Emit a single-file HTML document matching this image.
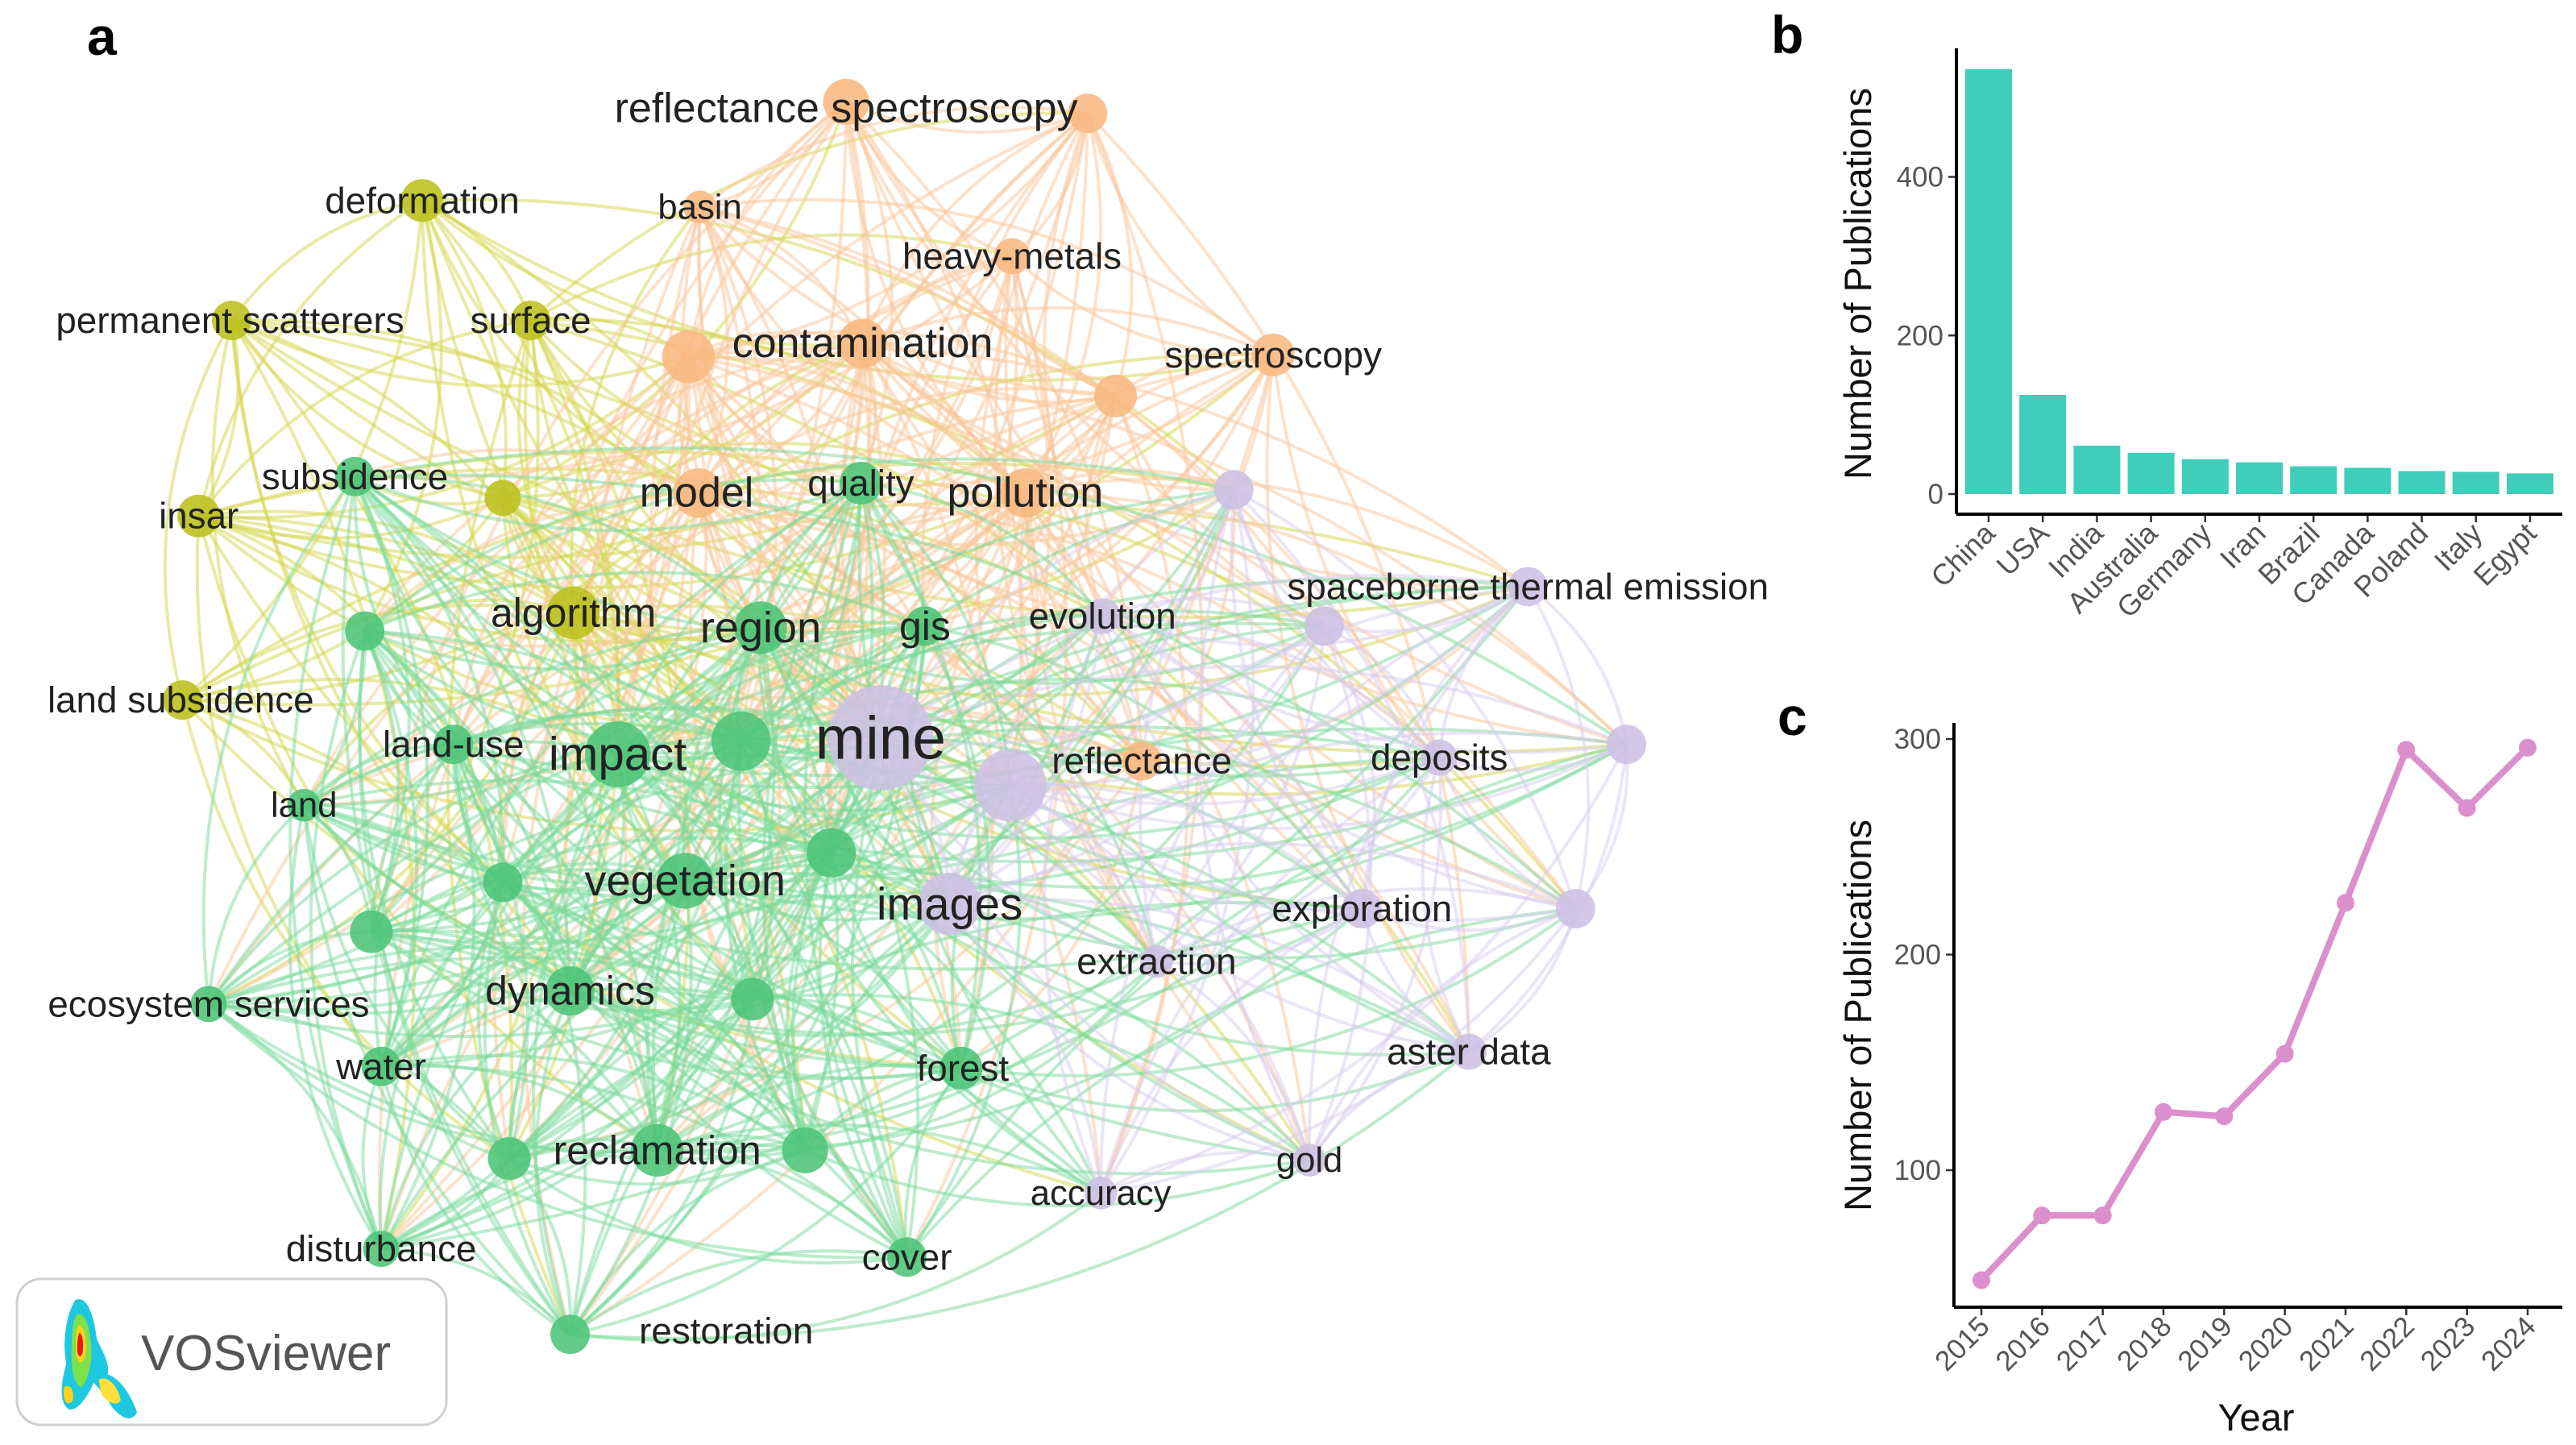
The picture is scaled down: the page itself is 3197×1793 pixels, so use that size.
<!DOCTYPE html>
<html><head><meta charset="utf-8">
<style>
html,body{margin:0;padding:0;background:#fff;}
svg{display:block;font-family:"Liberation Sans",sans-serif;}
</style></head>
<body>
<svg id="fig" width="3197" height="1793" viewBox="0 0 3197 1793" xmlns="http://www.w3.org/2000/svg">
  <g id="net">
    <g id="edges"></g>
    <g id="nodes"></g>
    <g id="labels"></g>
  </g>
  <text x="108" y="68" font-size="66" font-weight="bold" fill="#000">a</text>
  <text x="2198" y="66" font-size="66" font-weight="bold" fill="#000">b</text>
  <text x="2206" y="912" font-size="66" font-weight="bold" fill="#000">c</text>

  <g>
    <rect x="21" y="1587" width="533" height="181" rx="30" fill="#fff" stroke="#cfcfcf" stroke-width="3"/>
    <g transform="translate(112,1685) scale(1.35) translate(-112,-1685)">
      <path d="M98 1632 C110 1626 116 1650 118 1668 C124 1680 130 1690 128 1700 C140 1704 150 1720 155 1735 C150 1745 140 1740 132 1730 C126 1720 120 1712 115 1708 C110 1720 100 1735 92 1732 C82 1725 86 1705 90 1690 C86 1670 90 1645 98 1632Z" fill="#1ec8e0"/>
      <path d="M100 1645 C108 1642 112 1660 113 1675 C114 1690 110 1705 104 1712 C96 1710 94 1690 95 1675 C95 1660 96 1650 100 1645Z" fill="#7ee04a"/>
      <path d="M101 1655 C106 1654 109 1668 108 1680 C106 1692 100 1692 99 1680 C98 1668 99 1660 101 1655Z" fill="#ffd21a"/>
      <path d="M102 1662 C105 1662 106 1672 105 1680 C103 1686 100 1684 100 1676 C100 1668 101 1664 102 1662Z" fill="#e41a1a"/>
      <path d="M120 1705 C128 1700 138 1712 140 1724 C136 1730 128 1726 122 1718Z" fill="#ffe03a"/>
      <path d="M88 1712 C92 1708 98 1714 96 1724 C92 1730 86 1726 88 1712Z" fill="#ffd21a"/>
    </g>
    <text x="175" y="1700" font-size="62" fill="#555">VOSviewer</text>
  </g>

  <g id="chartB"></g>
  <g id="chartC"></g>
</svg>
<script>
// ---------- Panel b data ----------
const countries = ["China","USA","India","Australia","Germany","Iran","Brazil","Canada","Poland","Italy","Egypt"];
const countryCounts = [536,125,61,52,44,40,35,33,29,28,26];
const bTicks = [0,200,400];
// ---------- Panel c data ----------
const years = ["2015","2016","2017","2018","2019","2020","2021","2022","2023","2024"];
const yearCounts = [49,79,79,127,125,154,224,295,268,296];
const cTicks = [100,200,300];
// ---------- Panel a data (display coords, scaled below) ----------
const nodeNames = ["deformation","permanent scatterers","surface","insar","y1","algorithm","land subsidence",
 "reflectance spectroscopy","o1","basin","heavy-metals","contamination","o2","spectroscopy","o3","model","pollution","reflectance",
 "subsidence","quality","region","gis","g1","land-use","impact","g2","land","vegetation","g3","g4","g5","ecosystem services","dynamics","g6","water","forest","reclamation","g7","g8","disturbance","cover","restoration",
 "mine","p1","images","evolution","p2","p3","spaceborne thermal emission","deposits","p4","exploration","p5","extraction","aster data","gold","accuracy"];
const nodeX = [257,141,323,121,306,349,111, 515,662,426,616,525,419,775,679,425,624,695,
 216,524,463,563,222,276,376,451,185,417,306,506,226,127,347,458,232,585,400,310,490,232,552,347,
 536,615,578,671,751,806,930,876,990,829,959,704,894,797,670];
const nodeY = [122,195,195,314,303,373,426, 62,69,126,156,209,217,216,241,300,300,463,
 290,294,382,381,384,453,459,451,490,536,537,519,567,611,603,608,649,650,700,705,700,760,765,812,
 449,478,550,375,298,381,357,461,453,553,553,585,640,706,726];
const nodeR = [13,12,12,13,11,16,12, 14,12,10,11,15,16,13,13,15,15,12,
 12,13,16,12,12,12,20,18,10,17,12,15,13,11,15,13,12,13,16,13,14,11,12,12,
 32,22,19,11,12,12,12,11,12,12,12,10,11,10,10];
const nodeCluster = [0,0,0,0,0,0,0, 1,1,1,1,1,1,1,1,1,1,1,
 2,2,2,2,2,2,2,2,2,2,2,2,2,2,2,2,2,2,2,2,2,2,2,2,
 3,3,3,3,3,3,3,3,3,3,3,3,3,3,3];
const labelX = {"deformation":257,"permanent scatterers":140,"surface":323,"insar":121,"algorithm":349,"land subsidence":110,
 "reflectance spectroscopy":515,"basin":426,"heavy-metals":616,"contamination":525,"spectroscopy":775,"model":424,"pollution":624,"reflectance":695,
 "subsidence":216,"quality":524,"region":463,"gis":563,"land-use":276,"impact":376,"land":185,"vegetation":417,"ecosystem services":127,"dynamics":347,"water":232,"forest":586,"reclamation":400,"disturbance":232,"cover":552,"restoration":442,
 "mine":536,"images":578,"evolution":671,"spaceborne thermal emission":930,"deposits":876,"exploration":829,"extraction":704,"aster data":894,"gold":797,"accuracy":670};
const labelY = {"deformation":122,"permanent scatterers":195,"surface":195,"insar":314,"algorithm":373,"land subsidence":426,
 "reflectance spectroscopy":66,"basin":126,"heavy-metals":156,"contamination":209,"spectroscopy":216,"model":300,"pollution":300,"reflectance":463,
 "subsidence":290,"quality":294,"region":382,"gis":381,"land-use":453,"impact":459,"land":490,"vegetation":536,"ecosystem services":611,"dynamics":603,"water":649,"forest":650,"reclamation":700,"disturbance":760,"cover":765,"restoration":810,
 "mine":449,"images":550,"evolution":375,"spaceborne thermal emission":357,"deposits":461,"exploration":553,"extraction":585,"aster data":640,"gold":706,"accuracy":726};
const labelSize = {"mine":36,"impact":28,"images":27,"vegetation":26,"region":26,"reflectance spectroscopy":25,"contamination":25,"pollution":25,"model":25,"algorithm":24,"dynamics":24,"reclamation":24,"gis":24,"land":21,"basin":21,"gold":21,"accuracy":21,"cover":22};

const NS = "http://www.w3.org/2000/svg";
function mk(tag, attrs, parent){const e=document.createElementNS(NS,tag);for(const k in attrs)e.setAttribute(k,attrs[k]);parent.appendChild(e);return e;}
const S = 2.039;
const nodeFill = ["#bcbf1c","#f8b880","#4cc477","#cdc0e4"];
const edgeCol = ["#d3d64a","#f9c59a","#7ad99b","#d8ccee"];

// edges
const gE = document.getElementById("edges");
for(let i=0;i<nodeNames.length;i++){
  for(let j=i+1;j<nodeNames.length;j++){
    const same = nodeCluster[i]===nodeCluster[j];
    const h = (i*31+j*17)%11;
    const big = nodeR[i]>=15||nodeR[j]>=15;
    if(!(same ? h<8 : (big ? h<5 : h<2))) continue;
    const x1=nodeX[i]*S,y1=nodeY[i]*S,x2=nodeX[j]*S,y2=nodeY[j]*S;
    const mx=(x1+x2)/2,my=(y1+y2)/2,dx=x2-x1,dy=y2-y1;
    const c=((i+j)%2?0.2:-0.2);
    const p = mk("path",{d:`M${x1} ${y1} Q${mx-dy*c} ${my+dx*c} ${x2} ${y2}`,fill:"none",stroke:edgeCol[nodeCluster[i]],"stroke-width":4,"stroke-opacity":0.5},gE);
    
    
  }
}
// nodes
const gN = document.getElementById("nodes");
for(let i=0;i<nodeNames.length;i++){
  const c = mk("circle",{cx:nodeX[i]*S,cy:nodeY[i]*S,r:nodeR[i]*S,fill:nodeFill[nodeCluster[i]],"fill-opacity":0.88},gN);
  
  
}
// labels
const gL = document.getElementById("labels");
for(const name in labelX){
  const t = mk("text",{x:labelX[name]*S,y:labelY[name]*S,"text-anchor":"middle","dominant-baseline":"central","font-size":(labelSize[name]||22)*S*1.02,fill:"#222"},gL);
  t.textContent = name;
  
  
}

// ---------- Panel b ----------
const gB = document.getElementById("chartB");
const bX0=2428, bXend=3180, bYtop=60, bYaxis=638;
const bY = v => 613 - v*(393.5/400);
const bStep = 67.2, bFirst = 2468;
const bx = i => bFirst + i*bStep;
countries.forEach((c,i)=>{
  const r = mk("rect",{x:bx(i)-29,y:bY(countryCounts[i]),width:58,height:bY(0)-bY(countryCounts[i]),fill:"#40cdb9"},gB);
  
  
  mk("line",{x1:bx(i),x2:bx(i),y1:bYaxis,y2:bYaxis+10,stroke:"#333","stroke-width":2.5},gB);
  const t = mk("text",{x:0,y:0,transform:`translate(${bx(i)+10},${bYaxis+26}) rotate(-45)`,"text-anchor":"end","font-size":36,fill:"#555"},gB);
  t.textContent=c;
  
  
});
bTicks.forEach(v=>{
  mk("line",{x1:bX0-10,x2:bX0,y1:bY(v),y2:bY(v),stroke:"#333","stroke-width":2.5},gB);
  const t=mk("text",{x:bX0-16,y:bY(v)+12,"text-anchor":"end","font-size":35,fill:"#555"},gB);
  t.textContent=v;
  
  
});
mk("line",{x1:bX0,x2:bX0,y1:bYtop,y2:bYaxis,stroke:"#000","stroke-width":4},gB);
mk("line",{x1:bX0,x2:bXend,y1:bYaxis,y2:bYaxis,stroke:"#000","stroke-width":4},gB);
{const t=mk("text",{x:0,y:0,transform:"translate(2322,352) rotate(-90)","text-anchor":"middle","font-size":47,fill:"#111"},gB);
t.textContent="Number of Publications";

}

// ---------- Panel c ----------
const gC = document.getElementById("chartC");
const cX0=2425, cXend=3180, cYtop=897, cYaxis=1622;
const cY = v => 1452 - (v-100)*2.675;
const cStep = (3137-2459)/9, cFirst=2459;
const cx = i => cFirst + i*cStep;
cTicks.forEach(v=>{
  mk("line",{x1:cX0-10,x2:cX0,y1:cY(v),y2:cY(v),stroke:"#333","stroke-width":2.5},gC);
  const t=mk("text",{x:cX0-16,y:cY(v)+12,"text-anchor":"end","font-size":35,fill:"#555"},gC);
  t.textContent=v;
  
  
});
let d="";
yearCounts.forEach((v,i)=>{d+=(i?"L":"M")+cx(i)+" "+cY(v)+" ";});
{const p=mk("path",{d:d,fill:"none",stroke:"#dc8fcd","stroke-width":8,"stroke-linejoin":"round"},gC);

}
years.forEach((y,i)=>{
  const c=mk("circle",{cx:cx(i),cy:cY(yearCounts[i]),r:11,fill:"#dc8fcd"},gC);
  
  
  mk("line",{x1:cx(i),x2:cx(i),y1:cYaxis,y2:cYaxis+10,stroke:"#333","stroke-width":2.5},gC);
  const t=mk("text",{x:0,y:0,transform:`translate(${cx(i)+12},${cYaxis+26}) rotate(-45)`,"text-anchor":"end","font-size":35,fill:"#555"},gC);
  t.textContent=y;
  
  
});
mk("line",{x1:cX0,x2:cX0,y1:cYtop,y2:cYaxis,stroke:"#000","stroke-width":4},gC);
mk("line",{x1:cX0,x2:cXend,y1:cYaxis,y2:cYaxis,stroke:"#000","stroke-width":4},gC);
{const t=mk("text",{x:0,y:0,transform:"translate(2322,1260) rotate(-90)","text-anchor":"middle","font-size":47,fill:"#111"},gC);
t.textContent="Number of Publications";

}
{const t=mk("text",{x:2800,y:1775,"text-anchor":"middle","font-size":47,fill:"#111"},gC);
t.textContent="Year";

}
</script>
</body></html>
